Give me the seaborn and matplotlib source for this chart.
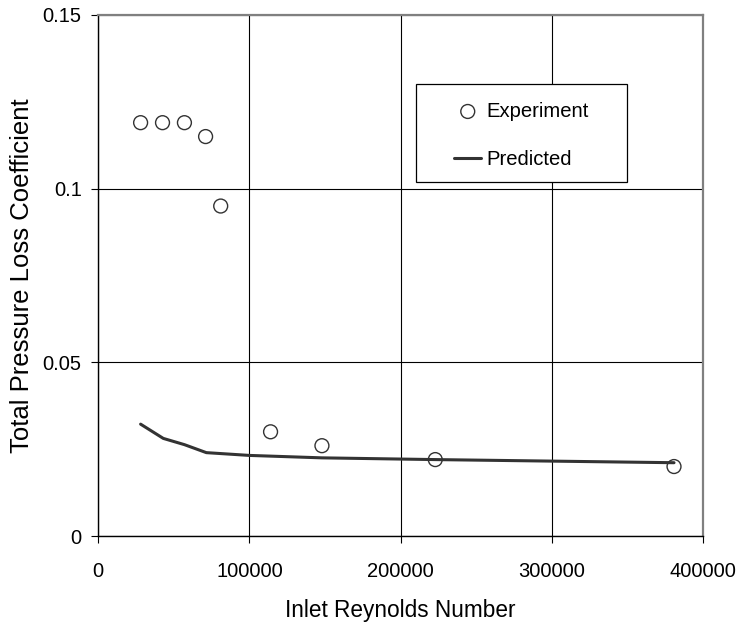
import matplotlib
matplotlib.use("Agg")
import matplotlib.pyplot as plt
from matplotlib.patches import Rectangle
from matplotlib.ticker import FuncFormatter
import pandas as pd
import seaborn as sns

# Measured total pressure loss coefficient vs inlet Reynolds number
exp_re = [28000, 42500, 57000, 71000, 81000, 114000, 148000, 223000, 381000]
exp_loss = [0.119, 0.119, 0.119, 0.115, 0.095, 0.030, 0.026, 0.022, 0.020]

# Model prediction
pred_re = [28000, 43000, 57000, 71500, 100000, 148000, 223000, 381000]
pred_loss = [0.0322, 0.0281, 0.0263, 0.0240, 0.0232, 0.0225, 0.0220, 0.0211]

x_ticks = [0, 100000, 200000, 300000, 400000]
y_ticks = [0, 0.05, 0.1, 0.15]

exp_df = pd.DataFrame({"re": exp_re, "loss": exp_loss})
pred_df = pd.DataFrame({"re": pred_re, "loss": pred_loss})

sns.set_style("white")
plt.rcParams["font.family"] = ["Liberation Sans", "DejaVu Sans"]
plt.rcParams["text.color"] = "black"
plt.rcParams["axes.labelcolor"] = "black"

fig = plt.figure(figsize=(7.38, 6.25), dpi=100)
ax = fig.add_axes([0.1332, 0.1424, 0.819, 0.8336])

sns.lineplot(data=pred_df, x="re", y="loss", ax=ax, color="#333333",
             linewidth=2.2, label="Predicted", legend=False, zorder=3)
sns.scatterplot(data=exp_df, x="re", y="loss", ax=ax, marker="o",
                s=100, facecolor="none", edgecolor="#333333", linewidth=1.0,
                label="Experiment", legend=False, zorder=4)

ax.set_xlim(0, 400000)
ax.set_ylim(0, 0.15)
ax.set_xticks(x_ticks)
ax.set_yticks(y_ticks)
fmt = FuncFormatter(lambda v, p: "{:g}".format(v))
ax.xaxis.set_major_formatter(fmt)
ax.yaxis.set_major_formatter(fmt)

ax.grid(True, color="black", linewidth=0.8)
ax.set_axisbelow(True)

for side in ("left", "bottom"):
    ax.spines[side].set_color("black")
    ax.spines[side].set_linewidth(1.0)
for side in ("top", "right"):
    ax.spines[side].set_color("#808080")
    ax.spines[side].set_linewidth(1.6)

ax.tick_params(axis="both", direction="out", length=5, width=0.8,
               color="black", labelsize=14.5, labelcolor="black")
ax.tick_params(axis="x", pad=14, bottom=True)
ax.tick_params(axis="y", pad=7, left=True)
ax.tick_params(top=False, right=False)

ax.set_xlabel("Inlet Reynolds Number", fontsize=16.3, labelpad=13)
ax.set_ylabel("Total Pressure Loss Coefficient", fontsize=18.5, labelpad=6)

# Legend with a hand-drawn frame
handles, labels = ax.get_legend_handles_labels()
order = [labels.index("Experiment"), labels.index("Predicted")]
leg = fig.legend([handles[i] for i in order], [labels[i] for i in order],
                 loc="center", bbox_to_anchor=(0.7066, 0.7832),
                 frameon=False, fontsize=14.6, handlelength=1.35,
                 handletextpad=0.25, labelspacing=1.45)
fig.add_artist(Rectangle((0.5637, 0.7093), 0.2859, 0.1563,
                         transform=fig.transFigure, facecolor="white",
                         edgecolor="black", linewidth=0.9, zorder=1))
leg.set_zorder(5)

fig.savefig("out.png", dpi=100)
